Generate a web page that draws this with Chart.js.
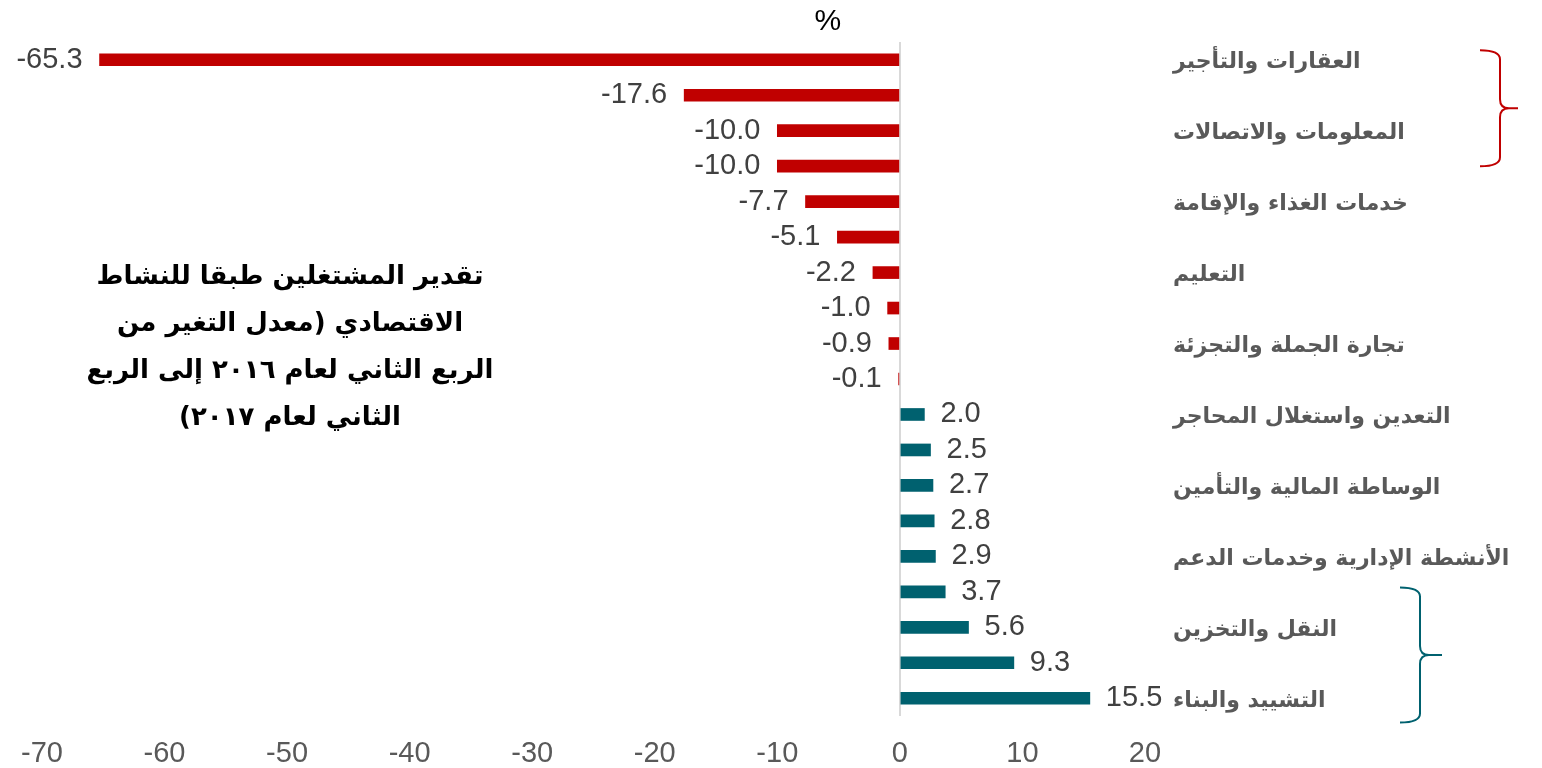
<!DOCTYPE html>
<html lang="ar">
<head>
<meta charset="utf-8">
<script src="https://cdn.jsdelivr.net/npm/chart.js@4/dist/chart.umd.min.js"></script>
<style>
  html, body { margin: 0; padding: 0; background: #ffffff; }
  #wrap { position: relative; width: 1542px; height: 768px; }
  #chart { position: absolute; left: 0; top: 0; }
  #note {
    position: absolute; left: 70px; top: 252px; width: 440px;
    direction: rtl; text-align: center;
    font-family: "DejaVu Sans", sans-serif; font-weight: bold;
    font-size: 26px; line-height: 47px; color: #000000;
  }
</style>
</head>
<body>
<div id="wrap">
  <canvas id="chart" width="1542" height="768"></canvas>
  <div id="note">تقدير المشتغلين طبقا للنشاط<br>الاقتصادي (معدل التغير من<br>الربع الثاني لعام ٢٠١٦ إلى الربع<br>الثاني لعام ٢٠١٧)</div>
</div>
<script>
// ---- data ----
const categories = [
  "العقارات والتأجير", "",
  "المعلومات والاتصالات", "",
  "خدمات الغذاء والإقامة", "",
  "التعليم", "",
  "تجارة الجملة والتجزئة", "",
  "التعدين واستغلال المحاجر", "",
  "الوساطة المالية والتأمين", "",
  "الأنشطة الإدارية وخدمات الدعم", "",
  "النقل والتخزين", "",
  "التشييد والبناء"
];
const values = [-65.3, -17.6, -10.0, -10.0, -7.7, -5.1, -2.2, -1.0, -0.9, -0.1,
                2.0, 2.5, 2.7, 2.8, 2.9, 3.7, 5.6, 9.3, 15.5];
const xTickMin = -70;
const xTickMax = 20;
const xTickStep = 10;
const unitLabel = "%";

const RED = "#C00000";
const TEAL = "#00616F";

const valueLabels = {
  id: "valueLabels",
  afterDatasetsDraw(chart) {
    const ctx = chart.ctx;
    const meta = chart.getDatasetMeta(0);
    ctx.save();
    ctx.font = '29px "Liberation Sans", Arial, sans-serif';
    ctx.fillStyle = "#404040";
    ctx.textBaseline = "middle";
    meta.data.forEach((el, i) => {
      const v = values[i];
      const txt = v.toFixed(1);
      if (v < 0) {
        ctx.textAlign = "right";
        ctx.fillText(txt, Math.min(el.x, el.base) - 17, el.y);
      } else {
        ctx.textAlign = "left";
        ctx.fillText(txt, Math.max(el.x, el.base) + 16, el.y);
      }
    });
    ctx.restore();
  }
};

function drawBrace(ctx, x0, xv, xtip, top, bottom, color) {
  const mid = (top + bottom) / 2;
  const r = 9;
  ctx.save();
  ctx.strokeStyle = color;
  ctx.lineWidth = 2;
  ctx.beginPath();
  ctx.moveTo(x0, top);
  ctx.quadraticCurveTo(xv, top, xv, top + r);
  ctx.lineTo(xv, mid - r);
  ctx.quadraticCurveTo(xv, mid, xv + r, mid);
  ctx.lineTo(xtip, mid);
  ctx.moveTo(x0, bottom);
  ctx.quadraticCurveTo(xv, bottom, xv, bottom - r);
  ctx.lineTo(xv, mid + r);
  ctx.quadraticCurveTo(xv, mid, xv + r, mid);
  ctx.stroke();
  ctx.restore();
}

const annotations = {
  id: "annotations",
  afterDraw(chart) {
    const ctx = chart.ctx;
    const ys = chart.scales.y;
    const xs = chart.scales.x;
    const area = chart.chartArea;
    const step = ys.getPixelForValue(1) - ys.getPixelForValue(0);
    // red brace: first four sectors
    drawBrace(ctx, area.right + 335, area.right + 355, area.right + 373,
      ys.getPixelForValue(0) - 0.27 * step, ys.getPixelForValue(3), RED);
    // teal brace: last four sectors
    drawBrace(ctx, area.right + 255, area.right + 275, area.right + 297,
      ys.getPixelForValue(15) - 0.12 * step, ys.getPixelForValue(18) + 0.68 * step, TEAL);
    // unit label
    ctx.save();
    ctx.font = '30px "Liberation Sans", Arial, sans-serif';
    ctx.fillStyle = "#000000";
    ctx.textAlign = "center";
    ctx.textBaseline = "middle";
    ctx.fillText(unitLabel, xs.getPixelForValue(0) - 72, 22);
    ctx.restore();
  }
};

new Chart(document.getElementById("chart"), {
  type: "bar",
  data: {
    labels: categories,
    datasets: [{
      data: values,
      backgroundColor: values.map(v => v < 0 ? RED : TEAL),
      borderWidth: 0,
      barThickness: 12
    }]
  },
  options: {
    indexAxis: "y",
    responsive: false,
    animation: false,
    layout: { padding: { top: 42, left: 41, right: 0, bottom: 0 } },
    plugins: { legend: { display: false }, tooltip: { enabled: false }, title: { display: false } },
    scales: {
      x: {
        type: "linear",
        min: xTickMin,
        max: xTickMax,
        border: { display: false },
        afterFit: (s) => { s.height = 52; },
        grid: {
          drawTicks: false,
          lineWidth: 2,
          color: (c) => (c.tick && c.tick.value === 0) ? "#D9D9D9" : "rgba(0,0,0,0)"
        },
        ticks: {
          stepSize: xTickStep,
          padding: 21,
          color: "#595959",
          font: { family: '"Liberation Sans", Arial, sans-serif', size: 29 },
          maxRotation: 0
        }
      },
      y: {
        position: "right",
        border: { display: false },
        grid: { display: false, drawTicks: false },
        afterFit: (s) => { s.width = 397; },
        ticks: {
          autoSkip: false,
          padding: 28,
          labelOffset: 3,
          color: "#595959",
          font: { family: '"DejaVu Sans", sans-serif', size: 22, weight: "bold" }
        }
      }
    }
  },
  plugins: [valueLabels, annotations]
});
</script>
</body>
</html>
